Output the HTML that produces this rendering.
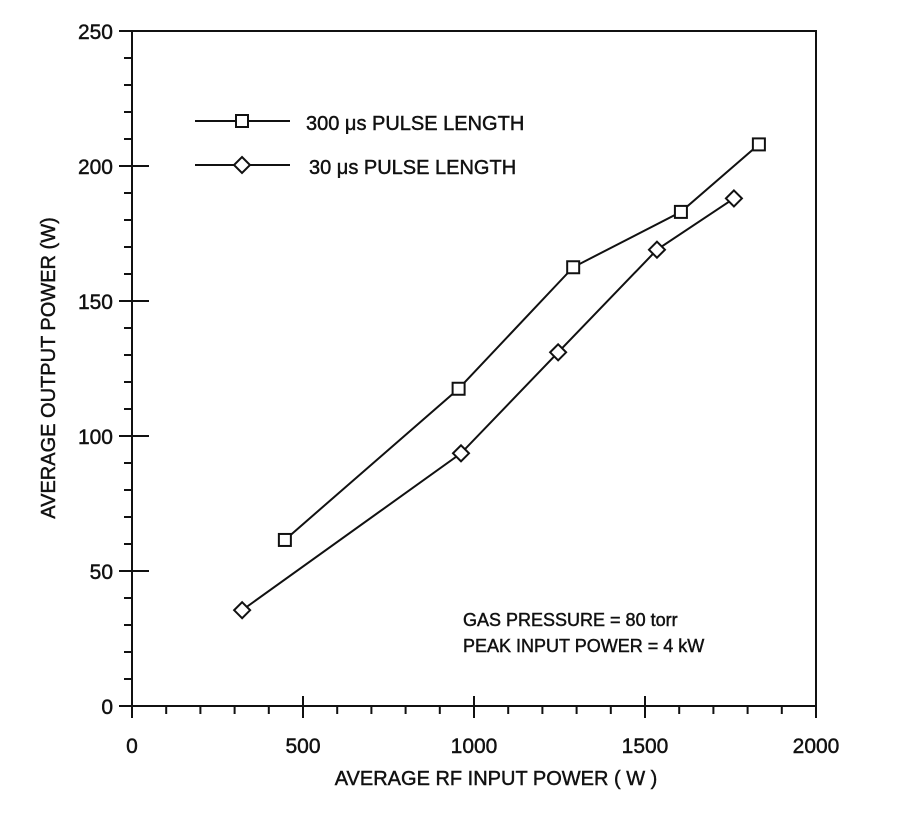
<!DOCTYPE html>
<html><head><meta charset="utf-8"><style>body{margin:0;background:#fff}text{font-family:"Liberation Sans",sans-serif;fill:#111;stroke:#111;stroke-width:0.45}</style></head>
<body>
<svg id="c" width="907" height="816">
<rect x="132" y="31" width="684" height="675" fill="none" stroke="#111" stroke-width="2"/>
<g id="ax"></g><g id="series"></g>
<text x="496" y="785" font-size="20" text-anchor="middle">AVERAGE RF INPUT POWER ( W )</text>
<text transform="translate(55,368) rotate(-90)" font-size="20" text-anchor="middle">AVERAGE OUTPUT POWER (W)</text>
<g>
<line x1="195" y1="121" x2="290" y2="121" stroke="#111" stroke-width="2"/>
<rect x="236" y="115" width="12" height="12" fill="#fff" stroke="#111" stroke-width="2"/>
<text x="306" y="130" font-size="20">300 μs PULSE LENGTH</text>
<line x1="195" y1="165" x2="290" y2="165" stroke="#111" stroke-width="2"/>
<path d="M242 157 L250 165 L242 173 L234 165 Z" fill="#fff" stroke="#111" stroke-width="2"/>
<text x="309" y="174" font-size="20">30 μs PULSE LENGTH</text>
</g>
<text x="463" y="626" font-size="18">GAS PRESSURE = 80 torr</text>
<text x="463" y="652" font-size="18">PEAK INPUT POWER = 4 kW</text>
</svg>
<script>
const xTicks=[0,500,1000,1500,2000];
const yTicks=[0,50,100,150,200,250];
const sqX=[447,955,1290,1605,1833];
const sqY=[61.5,117.5,162.5,183,208];
const diX=[322,962,1246,1535,1760];
const diY=[35.5,93.6,131,169,188];
const X=v=>132+v*0.342, Y=v=>706-v*2.7;
const NS="http://www.w3.org/2000/svg";
const ax=document.getElementById('ax'), sg=document.getElementById('series');
function mk(p,tag,a){const e=document.createElementNS(NS,tag);for(const k in a)e.setAttribute(k,a[k]);p.appendChild(e);return e;}
for(let v=0;v<=2000;v+=100){const major=v%500===0;
const l=mk(ax,'line',{x1:X(v),x2:X(v),y1:major?696:706,y2:major?718:714,stroke:'#111','stroke-width':2});

}
xTicks.forEach(v=>{const t=mk(ax,'text',{x:X(v),y:753,'font-size':21,'text-anchor':'middle'});t.textContent=v;

});
for(let v=0;v<=250;v+=10){const major=v%50===0;
const l=mk(ax,'line',{x1:major?119:124,x2:major?149:132,y1:Y(v),y2:Y(v),stroke:'#111','stroke-width':2});

}
yTicks.forEach(v=>{const t=mk(ax,'text',{x:113,y:Y(v)+8,'font-size':21,'text-anchor':'end'});t.textContent=v;

});
function series(xs,ys,shape,name){
const pl=mk(sg,'polyline',{points:xs.map((x,i)=>X(x)+','+Y(ys[i])).join(' '),fill:'none',stroke:'#111','stroke-width':2});


xs.forEach((x,i)=>{const cx=X(x),cy=Y(ys[i]);let m;
if(shape==='sq')m=mk(sg,'rect',{x:cx-6,y:cy-6,width:12,height:12,fill:'#fff',stroke:'#111','stroke-width':2});
else m=mk(sg,'path',{d:`M${cx} ${cy-8}L${cx+8} ${cy}L${cx} ${cy+8}L${cx-8} ${cy}Z`,fill:'#fff',stroke:'#111','stroke-width':2});

});}
series(sqX,sqY,'sq','series-300us');
series(diX,diY,'di','series-30us');
</script>
</body></html>
